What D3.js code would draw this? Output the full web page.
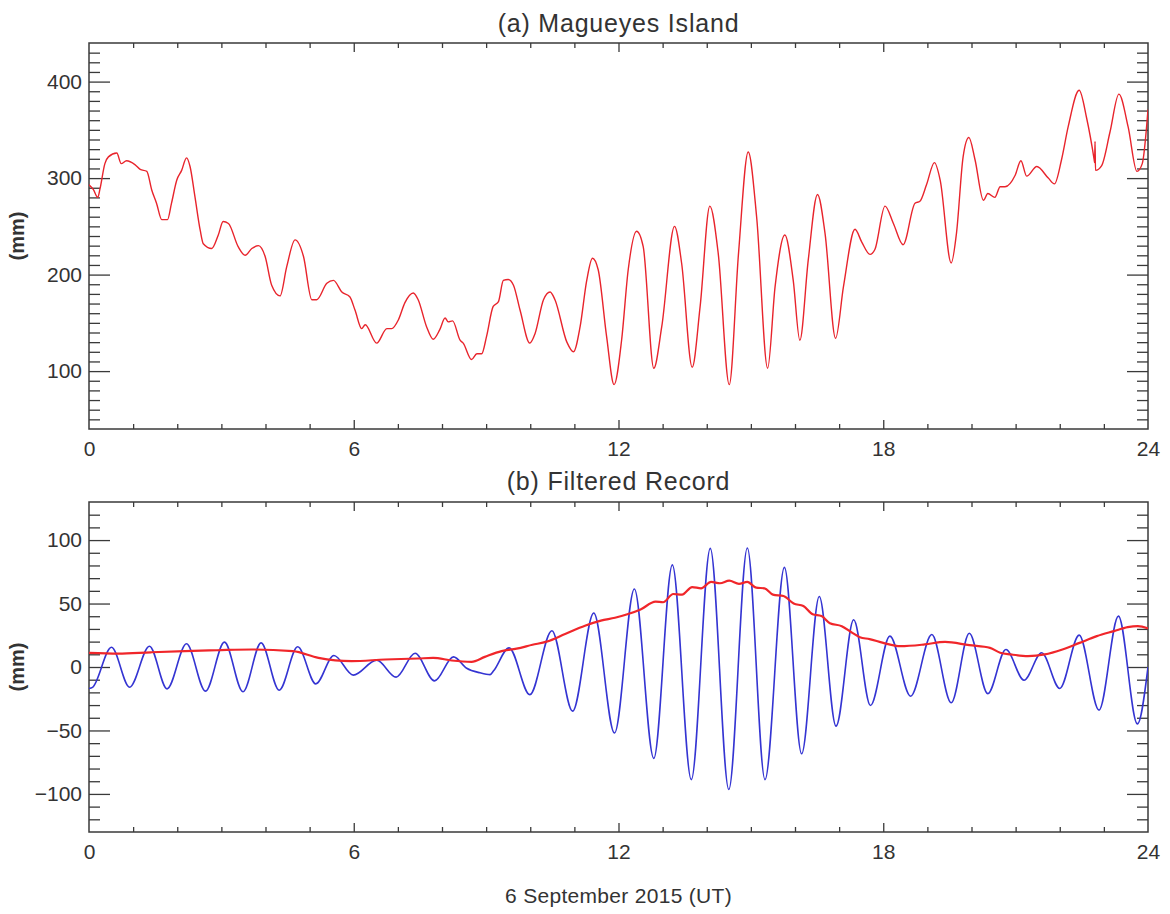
<!DOCTYPE html>
<html>
  <head>
    <meta charset="utf-8" />
    <title>Magueyes Island</title>
    <script src="https://d3js.org/d3.v7.min.js"></script>
    <style>
      body { margin: 0; background: #fff; }
      text { font-family: "Liberation Sans", Arial, sans-serif; fill: #333; }
    </style>
  </head>
  <body>
    <script>
      // x tick labels (hours, UT)
      var hourTicks = [0, 6, 12, 18, 24];
      var topTicks = [100, 200, 300, 400];
      var bottomTicks = [-100, -50, 0, 50, 100];

      // (a) raw sea level record
      var rawHour = [0.00, 0.10, 0.20, 0.25, 0.36, 0.44, 0.63, 0.73, 0.85, 1.04, 1.16, 1.31, 1.42, 1.53, 1.65, 1.78,
        1.87, 1.99, 2.10, 2.21, 2.29, 2.40, 2.52, 2.59, 2.78, 2.93, 3.04, 3.16, 3.38, 3.54, 3.69, 3.84, 3.99, 4.14,
        4.33, 4.48, 4.67, 4.86, 5.05, 5.16, 5.39, 5.54, 5.73, 5.91, 6.03, 6.18, 6.26, 6.52, 6.75, 6.86, 7.01, 7.16,
        7.35, 7.46, 7.65, 7.80, 7.95, 8.07, 8.14, 8.24, 8.41, 8.48, 8.67, 8.79, 8.90, 9.01, 9.16, 9.28, 9.39, 9.50,
        9.62, 9.77, 9.99, 10.11, 10.30, 10.45, 10.56, 10.83, 10.98, 11.13, 11.28, 11.41, 11.54, 11.73, 11.90, 12.07,
        12.22, 12.41, 12.56, 12.80, 12.98, 13.27, 13.43, 13.67, 13.85, 14.07, 14.26, 14.51, 14.72, 14.94, 15.13,
        15.38, 15.55, 15.77, 15.96, 16.11, 16.30, 16.51, 16.68, 16.92, 17.10, 17.36, 17.51, 17.70, 17.81, 18.04,
        18.23, 18.45, 18.72, 18.83, 18.98, 19.16, 19.29, 19.54, 19.66, 19.81, 19.94, 20.08, 20.27, 20.37, 20.53,
        20.65, 20.76, 20.99, 21.12, 21.25, 21.48, 21.74, 21.88, 22.04, 22.19, 22.44, 22.61, 22.78, 22.79, 22.80,
        22.81, 22.95, 23.14, 23.34, 23.55, 23.75, 23.87, 24.00];
      var rawLevel = [293, 288, 280, 289, 315, 322, 326, 315, 318, 314, 309, 307, 288, 274, 257, 257,
        274, 298, 308, 321, 312, 281, 246, 232, 227, 241, 255, 253, 229, 220, 227, 230, 219, 189,
        178, 208, 236, 219, 174, 174, 191, 194, 182, 177, 163, 144, 148, 129, 144, 144, 153, 171,
        181, 174, 146, 133, 143, 155, 151, 152, 132, 129, 112, 118, 118, 136, 167, 172, 194, 195,
        189, 163, 129, 139, 174, 182, 174, 130, 120, 146, 194, 217, 205, 136, 86, 132,
        205, 245, 229, 103, 146, 250, 212, 104, 167, 271, 222, 86, 222, 327, 260,
        103, 188, 241, 194, 132, 215, 283, 243, 134, 188, 247, 234, 221, 226, 271,
        253, 231, 274, 276, 293, 316, 298, 212, 243, 322, 342, 319, 277, 284, 280,
        291, 291, 303, 318, 302, 312, 300, 294, 319, 353, 391, 362, 319, 316, 338,
        308, 313, 348, 387, 353, 307, 315, 371];

      // (b) high-pass filtered record (blue), extremes
      var filtHour = [0.00, 0.08, 0.51, 0.92, 1.37, 1.77, 2.21, 2.64, 3.07, 3.49, 3.90, 4.31, 4.73, 5.14, 5.55, 5.99,
        6.52, 6.96, 7.39, 7.83, 8.26, 8.56, 8.86, 9.09, 9.17, 9.52, 9.99, 10.49, 10.96, 11.44, 11.91, 12.36,
        12.80, 13.22, 13.65, 14.08, 14.50, 14.92, 15.32, 15.76, 16.15, 16.55, 16.93, 17.33, 17.71, 18.15, 18.62,
        19.10, 19.54, 19.95, 20.37, 20.78, 21.19, 21.59, 22.00, 22.44, 22.89, 23.33, 23.76, 24.00];
      var filtLevel = [-17, -16, 15.6, -15.9, 16.4, -17.2, 18.3, -19, 19.6, -19.5, 19, -18.3, 15.9, -13.3, 9.1, -6.4,
        5.4, -8, 10.8, -10.9, 8, -1, -4.6, -6, -3, 15.1, -21.8, 28.6, -34.8, 42.5, -52, 61.5,
        -72, 80.5, -88.7, 93.5, -96.5, 93.7, -88.7, 78.5, -68.4, 55.5, -46.6, 37.2, -30.3, 24.3, -23,
        25.6, -28.2, 26.6, -21, 13.8, -10.4, 11.2, -16.9, 25.1, -34, 40.1, -44.8, 0];

      // (b) running amplitude (red)
      var ampHour = [0.00, 0.66, 1.40, 2.17, 2.90, 3.69, 4.62, 5.20, 5.95, 6.71, 7.46, 7.80, 8.22, 8.67, 8.97, 9.35,
        9.69, 10.05, 10.37, 10.79, 11.24, 11.60, 11.92, 12.20, 12.50, 12.84, 13.01, 13.24, 13.44, 13.67, 13.87,
        14.10, 14.30, 14.51, 14.73, 14.92, 15.12, 15.31, 15.50, 15.74, 15.97, 16.19, 16.40, 16.60, 16.79, 17.06,
        17.30, 17.47, 17.69, 18.00, 18.39, 18.94, 19.40, 19.95, 20.42, 20.65, 20.89, 21.28, 21.66, 22.06, 22.45,
        22.84, 23.23, 23.54, 23.77, 24.00];
      var ampLevel = [11.2, 10.6, 11.6, 12.5, 13.2, 13.8, 12.5, 7.2, 4.6, 5.9, 6.7, 7.2, 5.1, 4.1, 8.0, 12.5,
        14.5, 17.5, 20.0, 26.0, 32.5, 36.5, 38.8, 41.5, 45.3, 51.5, 51.0, 57.5, 57.0, 63.0, 62.0,
        67.0, 66.0, 68.0, 65.5, 67.0, 62.5, 62.0, 57.0, 55.9, 50.0, 48.0, 41.5, 40.1, 34.5, 32.2,
        26.9, 23.5, 22.0, 19.0, 16.4, 17.8, 19.8, 17.2, 15.1, 11.2, 9.9, 8.6, 9.9, 13.8, 19.0,
        24.3, 28.3, 31.4, 32.2, 30.4];

      var W = 1170, H = 914;
      var left = 89, right = 1148;
      var axisColor = "#3a3a3a";

      var svg = d3.select("body").append("svg")
        .attr("width", W).attr("height", H);

      //draws one framed panel with inward ticks on all four sides
      function drawPanel(p) {
        var x = d3.scaleLinear().domain([0, 24]).range([left, right]);
        var y = d3.scaleLinear().domain(p.yDomain).range([p.bottom, p.top]);
        var g = svg.append("g");

        var minorY = d3.range(p.yDomain[0] + 10, p.yDomain[1], 10)
          .filter(function(v){ return p.yTicks.indexOf(v) < 0; });
        var minorX = d3.range(1, 24).filter(function(h){ return h % 6 !== 0; });

        function put(axis, tx, ty) {
          var a = g.append("g").attr("transform", "translate(" + tx + "," + ty + ")").call(axis);
          a.select(".domain").remove();
          a.selectAll("line").attr("stroke", axisColor).attr("stroke-width", 1.3);
          a.selectAll("text").attr("font-size", 21).attr("fill", "#333")
            .attr("font-family", "Liberation Sans, Arial, sans-serif");
          return a;
        }

        // y axes
        put(d3.axisLeft(y).tickValues(minorY).tickSize(-11).tickFormat(""), left, 0);
        put(d3.axisLeft(y).tickValues(p.yTicks).tickSize(-21).tickPadding(7), left, 0);
        put(d3.axisRight(y).tickValues(minorY).tickSize(-11).tickFormat(""), right, 0);
        put(d3.axisRight(y).tickValues(p.yTicks).tickSize(-21).tickFormat(""), right, 0);

        // x axes
        put(d3.axisBottom(x).tickValues(minorX).tickSize(-5).tickFormat(""), 0, p.bottom);
        put(d3.axisBottom(x).tickValues([6, 12, 18]).tickSize(-9).tickFormat(""), 0, p.bottom);
        put(d3.axisBottom(x).tickValues(hourTicks).tickSize(0).tickPadding(12), 0, p.bottom);
        put(d3.axisTop(x).tickValues(minorX).tickSize(-5).tickFormat(""), 0, p.top);
        put(d3.axisTop(x).tickValues([6, 12, 18]).tickSize(-9).tickFormat(""), 0, p.top);

        // frame
        g.append("rect")
          .attr("x", left).attr("y", p.top)
          .attr("width", right - left).attr("height", p.bottom - p.top)
          .attr("fill", "none").attr("stroke", axisColor).attr("stroke-width", 1.5);

        // lines
        var clipId = "clip" + p.id;
        svg.append("clipPath").attr("id", clipId).append("rect")
          .attr("x", left).attr("y", p.top).attr("width", right - left).attr("height", p.bottom - p.top);

        p.series.forEach(function(s) {
          var pts = s.hours.map(function(h, i){ return [h, s.values[i]]; });
          g.append("path")
            .datum(pts)
            .attr("clip-path", "url(#" + clipId + ")")
            .attr("fill", "none")
            .attr("stroke", s.color)
            .attr("stroke-width", s.width)
            .attr("stroke-linejoin", "round")
            .attr("d", d3.line()
              .curve(d3.curveMonotoneX)
              .x(function(d){ return x(d[0]); })
              .y(function(d){ return y(d[1]); }));
        });

        // title
        svg.append("text")
          .attr("x", (left + right) / 2).attr("y", p.titleY)
          .attr("text-anchor", "middle").attr("font-size", 25).attr("letter-spacing", 0.8)
          .attr("fill", "#222")
          .text(p.title);

        // y label
        svg.append("text")
          .attr("transform", "translate(24," + ((p.top + p.bottom) / 2) + ") rotate(-90)")
          .attr("text-anchor", "middle").attr("font-size", 20).attr("font-weight", "bold")
          .attr("fill", "#333")
          .text("(mm)");
      }

      drawPanel({
        id: "a", top: 43, bottom: 429, yDomain: [40, 440], yTicks: topTicks,
        title: "(a) Magueyes Island", titleY: 32,
        series: [{ hours: rawHour, values: rawLevel, color: "#e8242c", width: 1.4 }]
      });

      drawPanel({
        id: "b", top: 502, bottom: 832, yDomain: [-130, 130], yTicks: bottomTicks,
        title: "(b) Filtered Record", titleY: 490,
        series: [
          { hours: filtHour, values: filtLevel, color: "#3434d2", width: 1.6 },
          { hours: ampHour, values: ampLevel, color: "#f0262a", width: 2.2 }
        ]
      });

      svg.append("text")
        .attr("x", (left + right) / 2).attr("y", 903)
        .attr("text-anchor", "middle").attr("font-size", 21).attr("letter-spacing", 0.3)
        .attr("fill", "#333")
        .text("6 September 2015 (UT)");
    </script>
  </body>
</html>
